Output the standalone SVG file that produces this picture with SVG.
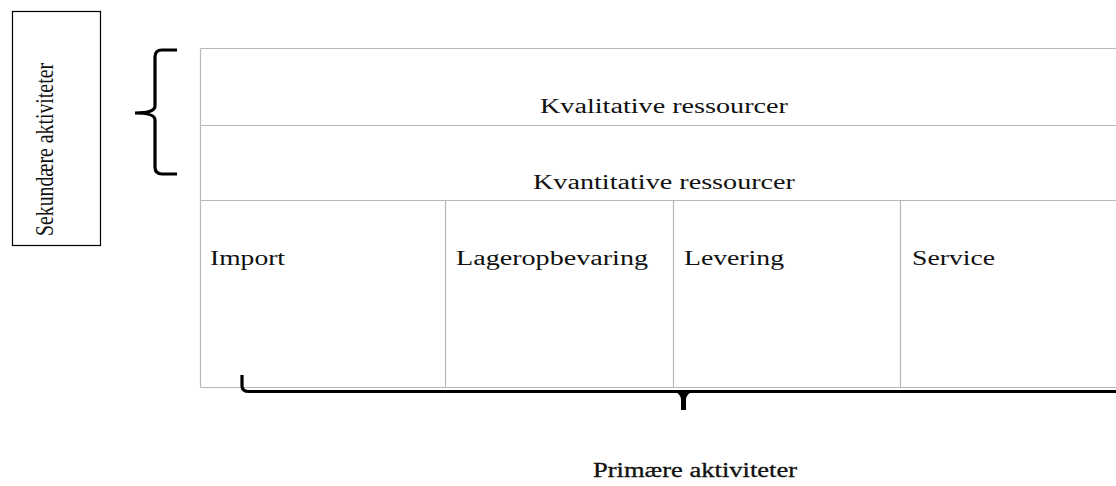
<svg xmlns="http://www.w3.org/2000/svg" width="1116" height="486" viewBox="0 0 1116 486">
<style>
.t{font-family:"Liberation Serif","Times New Roman",serif;font-size:20px;fill:#111}
.grid{stroke:#b8b8b8;stroke-width:1.2;fill:none}
.brace{stroke:#000;stroke-width:3.2;fill:none;stroke-linecap:butt}
</style>
<rect width="1116" height="486" fill="#fff"/>
<g id="sekundaere">
<rect x="12.5" y="11.5" width="88" height="234" fill="none" stroke="#000" stroke-width="1.2"/>
<text class="t" style="font-size:26px" transform="translate(53,236) rotate(-90)" textLength="173" lengthAdjust="spacingAndGlyphs">Sekundære aktiviteter</text>
</g>
<g id="table">
<path class="grid" d="M200.5,48.5 H1120 M200.5,125.5 H1120 M200.5,200.5 H1120 M200.5,387.5 H1120 M200.5,48.5 V387.5 M445.5,200.5 V387.5 M673.5,200.5 V387.5 M900.5,200.5 V387.5"/>
</g>
<g id="kvalitative"><text class="t" x="540" y="113" textLength="248" lengthAdjust="spacingAndGlyphs">Kvalitative ressourcer</text></g>
<g id="kvantitative"><text class="t" x="533" y="189" textLength="262" lengthAdjust="spacingAndGlyphs">Kvantitative ressourcer</text></g>
<g id="import"><text class="t" x="210" y="265" textLength="75" lengthAdjust="spacingAndGlyphs">Import</text></g>
<g id="lager"><text class="t" x="456" y="265" textLength="192" lengthAdjust="spacingAndGlyphs">Lageropbevaring</text></g>
<g id="levering"><text class="t" x="684" y="265" textLength="100" lengthAdjust="spacingAndGlyphs">Levering</text></g>
<g id="service"><text class="t" x="912" y="265" textLength="83" lengthAdjust="spacingAndGlyphs">Service</text></g>
<g id="connectors">
<path class="brace" d="M177,50 L162,50 Q155,50 155,57 L155,106 Q155,113 135,113 Q155,113 155,120 L155,167 Q155,174 162,174 L177,174"/>
<path class="brace" d="M242,375 L242,386 Q242,391.5 249,391.5 L1116,391.5"/>
<path d="M672,391 Q681,393 681,400 L681,410 L686,410 L686,400 Q686,393 695,391 Z" fill="#000"/>
</g>
<g id="primaere"><text class="t" x="593" y="477" textLength="204" lengthAdjust="spacingAndGlyphs" style="stroke:#111;stroke-width:0.3">Primære aktiviteter</text></g>
</svg>
